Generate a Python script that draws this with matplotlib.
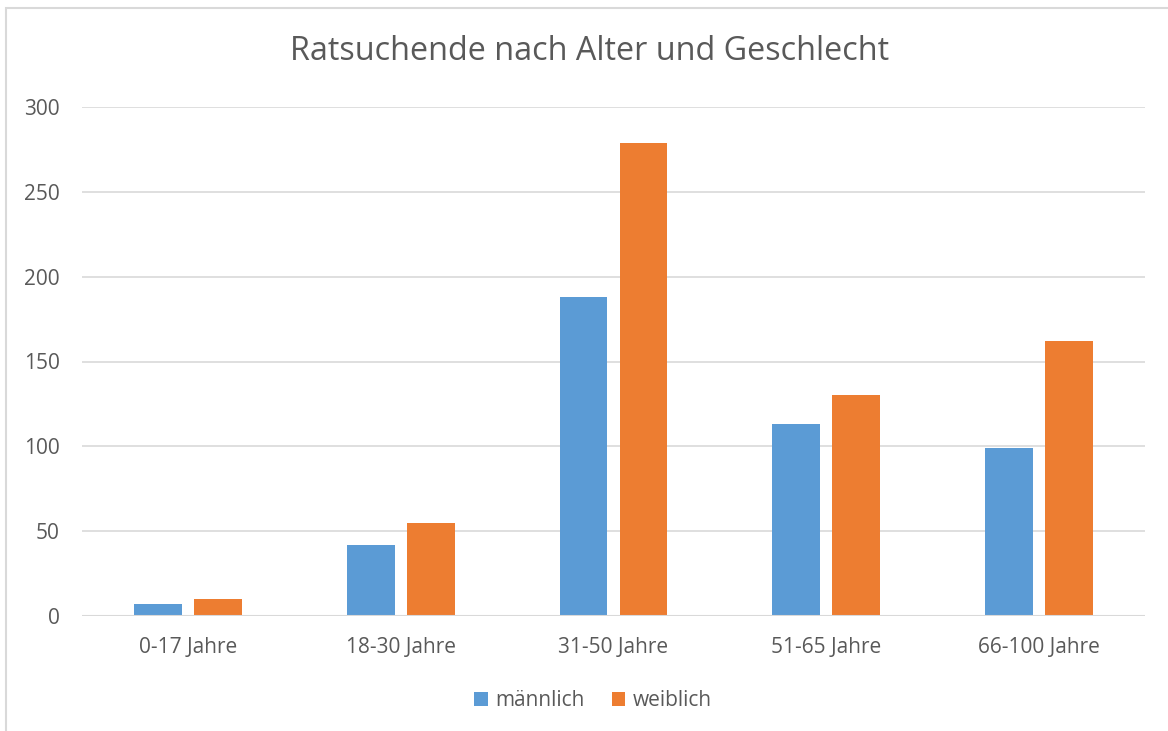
import numpy as np
import matplotlib
matplotlib.use("Agg")
import matplotlib.pyplot as plt
from matplotlib.patches import Rectangle

plt.rcParams['font.family'] = ['Open Sans', 'DejaVu Sans']

# data
kategorien = ['0-17 Jahre', '18-30 Jahre', '31-50 Jahre', '51-65 Jahre', '66-100 Jahre']
maennlich = [7, 42, 188, 113, 99]
weiblich = [10, 55, 279, 130, 162]
yticks = [0, 50, 100, 150, 200, 250, 300]

blau = '#5B9BD5'
orange = '#ED7D31'
textfarbe = '#595959'
gitter = '#D9D9D9'

fig = plt.figure(figsize=(11.68, 7.31), dpi=100)
ax = fig.add_axes([82/1168, 1 - 616/731, (1145 - 82)/1168, (616 - 107)/731])

x = np.arange(len(kategorien))
breite = 0.225
abstand = 0.141
ax.bar(x - abstand, maennlich, breite, color=blau, label='männlich', zorder=3)
ax.bar(x + abstand, weiblich, breite, color=orange, label='weiblich', zorder=3)

ax.set_xlim(-0.5, len(kategorien) - 0.5)
ax.set_ylim(0, 300)
ax.set_yticks(yticks)
ax.set_xticks(x)
ax.set_xticklabels(kategorien)
ax.tick_params(axis='both', length=0, labelsize=15, colors=textfarbe)
ax.tick_params(axis='x', pad=15)
ax.tick_params(axis='y', pad=16)
ax.yaxis.grid(True, color=gitter, linewidth=1.2, zorder=0)
for s in ax.spines.values():
    s.set_visible(False)
ax.axhline(0, color=gitter, linewidth=1.5, zorder=4)

fig.text(590/1168, 1 - 52/731, 'Ratsuchende nach Alter und Geschlecht', ha='center', va='center',
         fontsize=23.3, color=textfarbe)

leg = fig.legend(loc='center', bbox_to_anchor=(593/1168, 1 - 701/731), ncol=2, frameon=False,
                 fontsize=15, handlelength=0.65, handleheight=0.65, handletextpad=0.35, columnspacing=1.3)
for t in leg.get_texts():
    t.set_color(textfarbe)

# Rahmen des Diagramms (rechts und unten abgeschnitten)
fig.patches.append(Rectangle((6/1168, -0.05), 1.1, 1 - 8/731 + 0.05, transform=fig.transFigure,
                             fill=False, edgecolor=gitter, linewidth=1.5))

fig.savefig('out.png', dpi=100)
